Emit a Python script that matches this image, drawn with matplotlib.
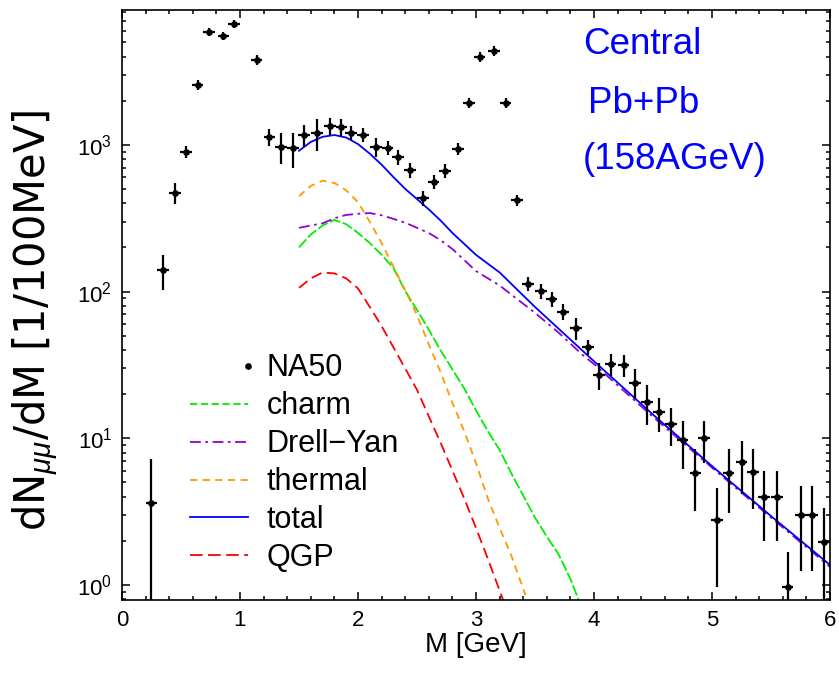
import matplotlib
matplotlib.use('Agg')
import matplotlib.pyplot as plt
from matplotlib.lines import Line2D
from matplotlib.legend_handler import HandlerLine2D
from matplotlib.ticker import MultipleLocator, LogLocator, NullFormatter

plt.rcParams['font.family'] = ['Liberation Sans', 'DejaVu Sans']
plt.rcParams['mathtext.fontset'] = 'custom'
plt.rcParams['mathtext.rm'] = 'Liberation Sans'
plt.rcParams['mathtext.it'] = 'Liberation Sans:italic'
plt.rcParams['mathtext.bf'] = 'Liberation Sans:bold'

# NA50 dimuon data (mass in GeV, counts per 100 MeV, error)
na50_m = [0.25, 0.35, 0.45, 0.54, 0.64, 0.74, 0.86, 0.95, 1.14, 1.25, 1.35, 1.45,
          1.54, 1.65, 1.76, 1.86, 1.94, 2.04, 2.15, 2.25, 2.34, 2.44, 2.55, 2.64,
          2.74, 2.85, 2.94, 3.03, 3.15, 3.25, 3.35, 3.44, 3.55, 3.64, 3.74, 3.85,
          3.95, 4.04, 4.14, 4.25, 4.35, 4.45, 4.55, 4.65, 4.75, 4.86, 4.93, 5.04,
          5.14, 5.25, 5.35, 5.44, 5.55, 5.64, 5.75, 5.85, 5.95]
na50_y = [3.6, 140, 470, 895, 2560, 5890, 5530, 6670, 3790, 1130, 968, 952,
          1170, 1206, 1345, 1325, 1206, 1170, 968, 952, 828, 675, 433, 561,
          667, 937, 1930, 3970, 4360, 1930, 421, 113, 101, 89, 73, 56.5,
          42, 27, 32, 31.6, 24, 17.7, 15, 12.5, 9.7, 5.8, 10, 2.77,
          5.8, 6.9, 5.9, 4.0, 4.0, 0.97, 3.0, 3.0, 1.96]
na50_err = [3.6, 38, 76, 80, 200, 350, 350, 400, 300, 150, 230, 260,
            200, 300, 170, 180, 130, 130, 140, 105, 100, 80, 50, 60,
            70, 90, 150, 300, 330, 150, 35, 12, 12, 11, 9, 10,
            5, 5.7, 5.6, 5.5, 5.5, 5.4, 3.9, 3.7, 3.5, 2.6, 3.2, 1.8,
            2.7, 2.7, 2.6, 2.0, 2.0, 0.7, 1.75, 1.75, 1.4]

# model curves
m_charm = [1.5, 1.6, 1.7, 1.8, 1.9, 2.0, 2.1, 2.2, 2.3, 2.4, 2.5, 2.6, 2.7, 2.8,
           2.9, 3.0, 3.1, 3.2, 3.3, 3.4, 3.5, 3.6, 3.7, 3.8, 3.87]
charm = [200, 245, 282, 308, 288, 251, 214, 178, 145, 101, 75.0, 55.0, 39.8, 29.5,
         21.9, 15.5, 11.2, 8.32, 5.75, 4.07, 2.88, 2.14, 1.62, 1.10, 0.79]

m_dy = [1.5, 1.6, 1.7, 1.8, 1.9, 2.0, 2.1, 2.2, 2.3, 2.4, 2.5, 2.6, 2.7, 2.8,
        3.0, 3.2, 3.5, 3.7, 3.9, 4.0, 4.5, 5.0, 5.5, 6.0]
drell_yan = [272, 282, 292, 316, 333, 339, 343, 331, 313, 295, 272, 251, 224, 195,
             138, 110, 71.6, 52.5, 37.2, 32.0, 14.0, 6.31, 2.88, 1.33]

m_thermal = [1.5, 1.6, 1.7, 1.8, 1.9, 2.0, 2.1, 2.2, 2.3, 2.4, 2.5, 2.6, 2.7, 2.8,
             2.9, 3.0, 3.1, 3.2, 3.3, 3.42]
thermal = [447, 525, 570, 550, 490, 407, 299, 214, 148, 102, 69.2, 43.6, 28.2, 17.4,
           11.2, 6.76, 3.89, 2.45, 1.58, 0.85]

m_total = [1.5, 1.6, 1.7, 1.8, 1.9, 2.0, 2.1, 2.2, 2.3, 2.4, 2.5, 2.6, 2.7, 2.8,
           3.0, 3.2, 3.5, 4.0, 4.5, 5.0, 5.5, 6.0]
total = [912, 1047, 1135, 1167, 1122, 1012, 871, 733, 603, 501, 427, 363, 305, 251,
         178, 135, 78.5, 33.5, 14.5, 6.46, 2.95, 1.37]

m_qgp = [1.5, 1.6, 1.7, 1.8, 1.9, 2.0, 2.1, 2.2, 2.3, 2.4, 2.5, 2.6, 2.7, 2.8,
         2.9, 3.0, 3.1, 3.23]
qgp = [106, 123, 135, 133, 123, 105, 78.5, 58.2, 41.7, 29.9, 21.4, 14.1, 9.33, 6.03,
       3.89, 2.45, 1.51, 0.79]


class RightMarkerHandler(HandlerLine2D):
    # only a dot, sitting at the right end of the handle box
    def create_artists(self, legend, orig_handle, xdescent, ydescent,
                       width, height, fontsize, trans):
        y = (height - ydescent) / 2
        dot = Line2D([width - xdescent], [y])
        self.update_prop(dot, orig_handle, legend)
        dot.set_linestyle('none')
        dot.set_transform(trans)
        return [dot]


fig = plt.figure(figsize=(8.39, 6.82), dpi=100)
ax = fig.add_axes([0.1454, 0.1202, 0.8439, 0.8651])

ax.errorbar(na50_m, na50_y, yerr=na50_err, xerr=0.05, fmt='o', color='black',
            ms=3.8, elinewidth=1.6, capsize=0, zorder=5)

lw = 1.3
ax.plot(m_charm, charm, color='#00ee00', lw=lw, ls=(0, (6, 1.5)))
ax.plot(m_dy, drell_yan, color='#9400d3', lw=lw, ls=(0, (6, 2.5, 1.5, 2.5)))
ax.plot(m_thermal, thermal, color='#ff9900', lw=lw, ls=(0, (4, 3)))
ax.plot(m_total, total, color='#0000ff', lw=lw, ls='-')
ax.plot(m_qgp, qgp, color='#ff0000', lw=lw, ls=(0, (6, 3)))

ax.set_yscale('log')
ax.set_xlim(0, 6)
ax.set_ylim(0.79, 8300)
ax.xaxis.set_major_locator(MultipleLocator(1))
ax.xaxis.set_minor_locator(MultipleLocator(0.2))
ax.yaxis.set_major_locator(LogLocator(base=10))
ax.yaxis.set_minor_locator(LogLocator(base=10, subs=range(2, 10)))
ax.yaxis.set_minor_formatter(NullFormatter())
ax.tick_params(which='both', direction='in', top=True, right=True, width=1.1)
ax.tick_params(which='major', length=6, labelsize=16, pad=7)
ax.tick_params(which='minor', length=3)
for s in ax.spines.values():
    s.set_linewidth(1.2)

ax.set_xlabel('M [GeV]', fontsize=20, labelpad=1)
ax.set_ylabel(r'dN$_{\mu\mu}$/dM [1/100MeV]', fontsize=30,
              family=['DejaVu Sans'])
ax.yaxis.set_label_coords(-0.086, 0.474)

ax.text(0.651, 0.941, 'Central', transform=ax.transAxes, color='#0000ff',
        fontsize=26.5, ha='left', va='center')
ax.text(0.658, 0.842, 'Pb+Pb', transform=ax.transAxes, color='#0000ff',
        fontsize=26.5, ha='left', va='center')
ax.text(0.651, 0.746, '(158AGeV)', transform=ax.transAxes, color='#0000ff',
        fontsize=26.5, ha='left', va='center')

handles = [
    Line2D([], [], marker='o', ls='none', color='black', ms=3.8),
    Line2D([], [], color='#00ee00', lw=lw, ls=(0, (4, 2))),
    Line2D([], [], color='#9400d3', lw=lw, ls=(0, (6, 2.5, 1.5, 2.5))),
    Line2D([], [], color='#ff9900', lw=lw, ls=(0, (4, 3))),
    Line2D([], [], color='#0000ff', lw=lw, ls='-'),
    Line2D([], [], color='#ff0000', lw=lw, ls=(0, (7, 3))),
]
labels = ['NA50', 'charm', 'Drell\u2212Yan', 'thermal', 'total', 'QGP']
ax.legend(handles, labels, loc='upper left', bbox_to_anchor=(0.096, 0.418),
          frameon=False, fontsize=22, handlelength=1.9, handletextpad=0.62,
          labelspacing=0.26, borderpad=0, borderaxespad=0,
          handler_map={handles[0]: RightMarkerHandler()})

fig.savefig('out.png', dpi=100)
